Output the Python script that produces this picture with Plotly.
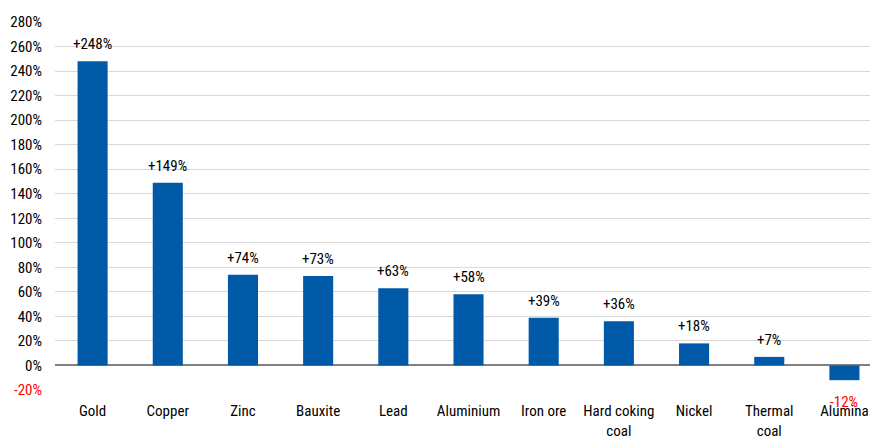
import plotly.graph_objects as go

categories = ["Gold", "Copper", "Zinc", "Bauxite", "Lead", "Aluminium", "Iron ore",
              "Hard coking<br>coal", "Nickel", "Thermal<br>coal", "Alumina"]
values = [248, 149, 74, 73, 63, 58, 39, 36, 18, 7, -12]
labels = ["+248%", "+149%", "+74%", "+73%", "+63%", "+58%", "+39%", "+36%", "+18%", "+7%", "-12%"]
tick_vals = list(range(-20, 281, 20))
tick_text = [f"{v}%" for v in tick_vals]
tick_text[0] = "<span style='color:#FF0000'>-20%</span>"

font_family = "Roboto Condensed, Liberation Sans Narrow, Roboto, sans-serif"

fig = go.Figure()
fig.add_trace(go.Bar(
    x=categories, y=values,
    marker=dict(color="#005AA7", line=dict(width=0)),
    width=0.4,
    hoverinfo="x+y",
))
for c, v, t in zip(categories, values, labels):
    fig.add_annotation(
        x=c, y=v, text=t, showarrow=False,
        yanchor="bottom" if v >= 0 else "top",
        yshift=6 if v >= 0 else -11,
        font=dict(size=15, family=font_family, color="#000000" if v >= 0 else "#FF0000"),
    )
fig.update_layout(
    width=872, height=436,
    margin=dict(l=55, r=2, t=22, b=46, autoexpand=False),
    paper_bgcolor="white", plot_bgcolor="white",
    font=dict(family=font_family, size=15, color="#000000"),
    showlegend=False,
)
fig.update_yaxes(
    range=[-20, 280], tickvals=tick_vals, ticktext=tick_text,
    showgrid=True, gridcolor="#D9D9D9", gridwidth=1,
    zeroline=True, zerolinecolor="#808080", zerolinewidth=2,
    ticks="", showline=False, tickfont=dict(size=15), ticklabelstandoff=12,
    automargin=False,
)
fig.update_xaxes(showgrid=False, showline=False, ticks="", tickfont=dict(size=15),
                 ticklabelstandoff=10, automargin=False, range=[-0.5, 10.34],
                 ticklabeloverflow="allow")
fig.write_html(
    "out.html",
    config={"displayModeBar": False},
    post_script="document.body.style.margin='0';document.body.style.overflow='hidden';",
)
